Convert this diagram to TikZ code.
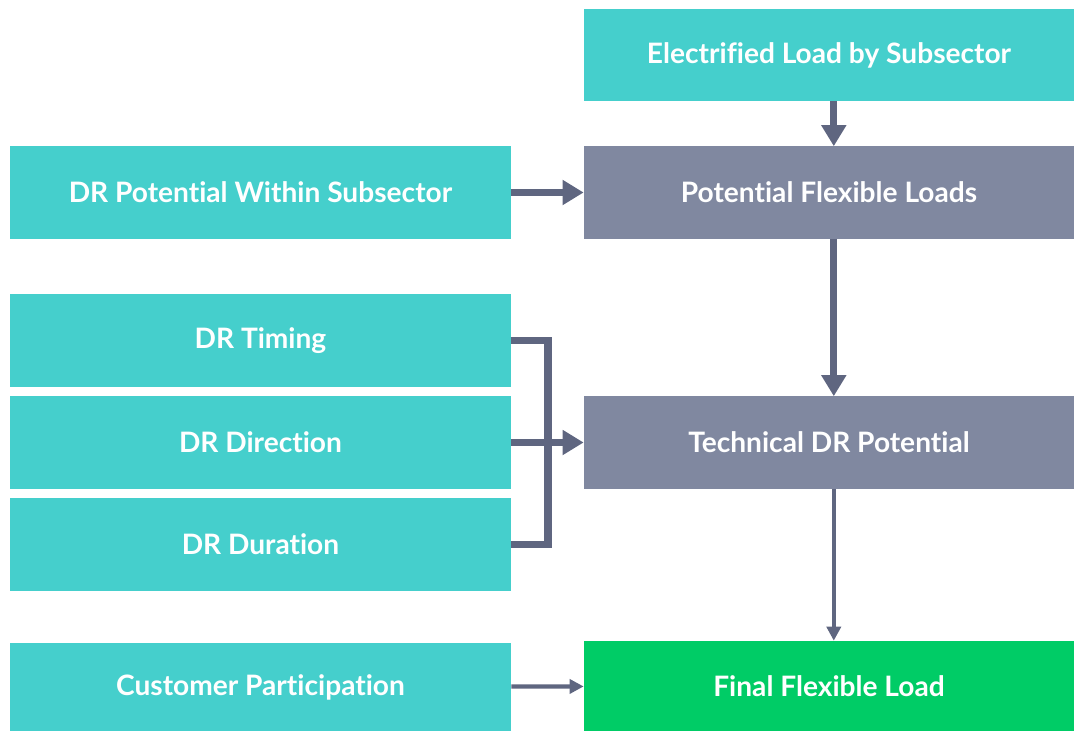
\documentclass[tikz,border=0pt]{standalone}
\usepackage{fontspec}
\setmainfont[Ligatures=NoCommon]{Lato}
\usetikzlibrary{arrows.meta}

\definecolor{tealbox}{HTML}{45CFCC}
\definecolor{slatebox}{HTML}{8088A0}
\definecolor{greenbox}{HTML}{00CC66}
\definecolor{arrowcol}{HTML}{5F6680}

\tikzset{
  box/.style={rectangle,fill=tealbox,text=white,font=\bfseries\fontsize{20}{24}\selectfont,
    minimum width=12.25cm,minimum height=2.3cm,inner sep=0pt},
  leftbox/.style={box,minimum width=12.525cm},
  midbox/.style={box,fill=slatebox},
  endbox/.style={box,fill=greenbox,minimum height=2.25cm},
  fat/.style={draw=arrowcol,line width=5pt,-{Triangle[length=15pt,width=17pt]}},
  slim/.style={draw=arrowcol,line width=3pt,-{Triangle[length=10pt,width=10pt]}},
  bar/.style={draw=arrowcol,line width=5pt,line join=miter}
}

\begin{document}
\begin{tikzpicture}[x=0.025cm,y=-0.025cm]
  \useasboundingbox (0,0) rectangle (1074,731);
%right column
  \node[box] (elec) at (829,55) {Electrified Load by Subsector};
  \node[midbox] (pfl) at (829,192.5) {Potential Flexible Loads};
  \node[midbox] (tdr) at (829,442.5) {Technical DR Potential};
  \node[endbox] (final) at (829,686) {Final Flexible Load};
%left column
  \node[leftbox] (drpot) at (260.5,192.5) {DR Potential Within Subsector};
  \node[leftbox] (timing) at (260.5,340.5) {DR Timing};
  \node[leftbox] (direction) at (260.5,442.5) {DR Direction};
  \node[leftbox] (duration) at (260.5,544.5) {DR Duration};
  \node[leftbox,minimum height=2.2cm] (cust) at (260.5,687) {Customer Participation};
%vertical flow
  \draw[fat] ([xshift=0.12cm]elec.south) -- ([xshift=0.12cm]pfl.north);
  \draw[fat] ([xshift=0.12cm]pfl.south) -- ([xshift=0.12cm]tdr.north);
  \draw[slim] ([xshift=0.12cm]tdr.south) -- ([xshift=0.12cm]final.north);
%inputs from the left
  \draw[fat] (drpot) -- (pfl);
  \coordinate (join) at (548,442.5);
  \draw[bar] (timing.east) -| (join) |- (duration.east);
  \draw[fat] (direction) -- (tdr);
  \draw[slim] (cust) -- (final);
\end{tikzpicture}
\end{document}
